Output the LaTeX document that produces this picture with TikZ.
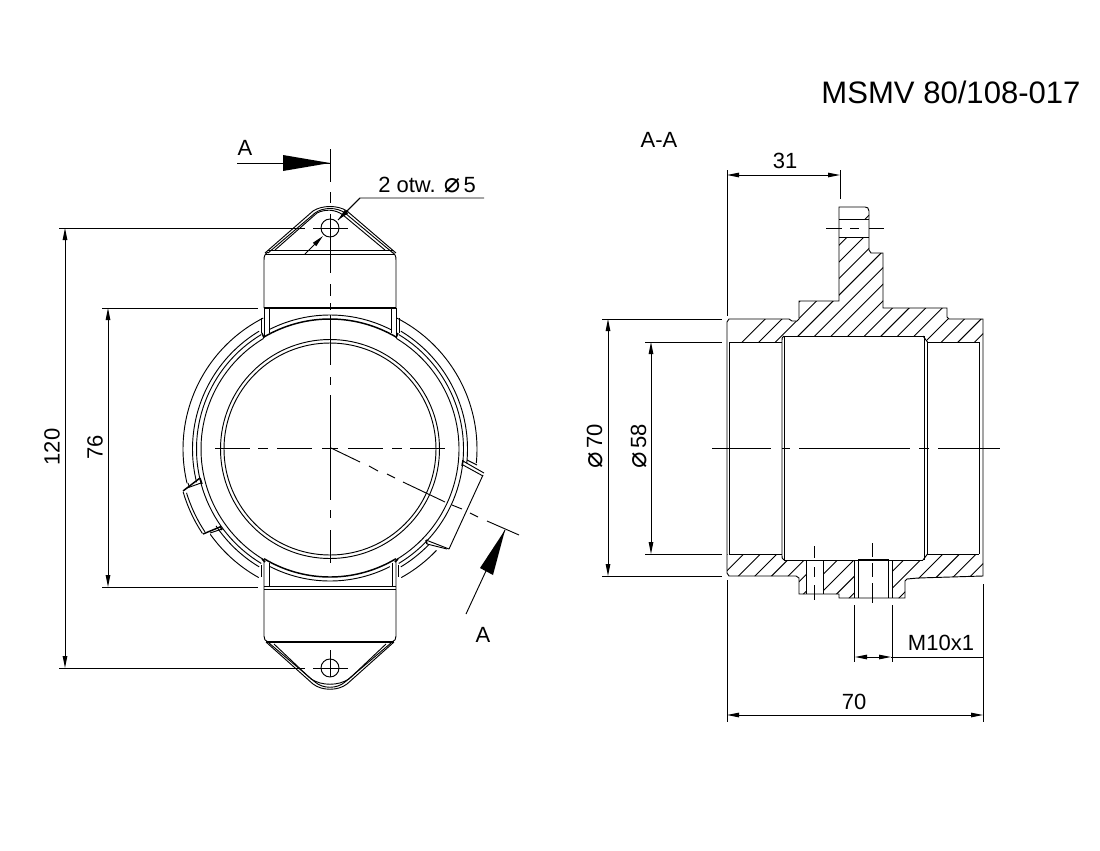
\documentclass[tikz,border=0pt]{standalone}
\usepackage{fontspec}
\setmainfont{Liberation Sans}
\newfontfamily\symfont{DejaVu Sans}
\usetikzlibrary{arrows.meta}
\newcommand{\dia}{{\symfont\fontsize{20.5}{20}\selectfont\raisebox{-0.3pt}{⌀}}\kern2.5pt}
\newcommand{\rarc}[4][]{\draw[#1] plot[domain=#3:#4,samples=50,variable=\t] ({330+#2*cos(\t)},{449+#2*sin(\t)});}
\newcommand{\hatchset}[3]{\foreach \k in {0,...,#3}{\pgfmathsetmacro{\s}{#1+\k*#2}\draw[ln] ({\s-150},150) -- ({\s-700},700);}}
\tikzset{
 ln/.style={line width=0.7pt,line cap=butt},
 thk/.style={line width=1.1pt},
 dimln/.style={line width=0.7pt},
 both/.style={dimln,{Triangle[length=9pt,width=3.4pt]}-{Triangle[length=9pt,width=3.4pt]}},
 txt/.style={font=\fontsize{16.5}{20}\selectfont,inner sep=0pt,text=black},
 ttl/.style={font=\fontsize{23.3}{28}\selectfont,inner sep=0pt,text=black},
}
\begin{document}
\begin{tikzpicture}[x=0.75pt,y=-0.75pt]
\useasboundingbox (0,0) rectangle (1100,850);
\fill[white] (0,0) rectangle (1100,850);

% ---- texts
\node[ttl] (title) at (951,92) {MSMV 80/108-017};
\node[txt] (secname) at (659,140) {A-A};
\node[txt] (aone) at (245,148) {A};
\node[txt] (atwo) at (483,635) {A};
\node[txt,anchor=west] (holes) at (378,185) {2 otw. \dia5};
\node[txt,rotate=90] (d120) at (52,447) {120};
\node[txt,rotate=90] (d76) at (95,447) {76};
\node[txt] (d31) at (785,161) {31};
\node[txt,rotate=90] (d70a) at (595,446) {\dia70};
\node[txt,rotate=90] (d58) at (639,446) {\dia58};
\node[txt] (dm) at (941,643) {M10x1};
\node[txt] (d70b) at (854,702) {70};

% ---- LEFT VIEW: rings
\draw[ln] (330,449) circle [x radius=106,y radius=-106];
\draw[ln] (330,449) circle [x radius=109.5,y radius=-109.5];
\rarc[ln]{129}{-59}{59}
\rarc[ln]{129}{121}{239}
\rarc[ln]{133.5}{-59}{59}
\rarc[ln]{133.5}{121}{239}
\rarc[ln]{137.5}{-59}{6}
\rarc[ln]{137.5}{44}{59}
\rarc[ln]{137.5}{121}{146}
\rarc[ln]{137.5}{166}{239}
\rarc[ln]{147}{-63}{5.5}
\rarc[ln]{147}{43.6}{61}
\rarc[ln]{147}{119}{144.5}
\rarc[ln]{147}{166.5}{243}
\rarc[thk]{130}{-120.5}{-59.5}
\rarc[ln]{134}{-117}{-63}
\rarc[thk]{128}{59}{121}
\rarc[ln]{132}{63}{117}

% stubs beside the lugs
\draw[ln] (261,318) -- (261,333);
\draw[ln] (399,318) -- (399,333);
\draw[ln] (261,565) -- (261,577);
\draw[ln] (398,565) -- (398,577);

% top lug
\draw[ln] (264,308) -- (264,260) .. controls (264,256) and (265,254) .. (268,252);
\draw[ln] (396,308) -- (396,260) .. controls (396,256) and (395,254) .. (392,252);
\draw[thk] (264,308) -- (396,308);
\draw[ln] (265,253) -- (313,211) .. controls (322,205) and (338,205) .. (347,211) -- (396,253);
\draw[ln] (268,253) -- (315,213) .. controls (323,207) and (337,207) .. (345,213) -- (393,253);
\draw[ln] (275,250) -- (317,213) .. controls (325,209) and (335,209) .. (343,215) -- (385,250);
\draw[ln] (268,250) -- (393,250);
\draw[ln] (265,254) -- (395,254);
\draw[ln] (264,308) -- (264,337);
\draw[ln] (269,308) -- (269,333);
\draw[ln] (396,308) -- (396,337);
\draw[ln] (391,308) -- (391,333);
\draw[thk] (262,333) -- (264,338);
\draw[thk] (398,333) -- (396,338);
\draw[ln] (330,228) circle [x radius=9,y radius=-9];
\draw[ln] (313,228) -- (348,228);

% bottom lug
\draw[ln] (264,586) -- (396,586);
\draw[ln] (264,589) -- (396,589);
\draw[ln] (264,560) -- (264,636) .. controls (264,639) and (265,641) .. (268,642);
\draw[ln] (396,560) -- (396,636) .. controls (396,639) and (395,641) .. (392,642);
\draw[ln] (269,563) -- (269,586);
\draw[ln] (392,563) -- (392,586);
\draw[thk] (262,559) -- (265,562);
\draw[thk] (398,559) -- (395,562);
\draw[thk] (266,642) -- (394,642);
\draw[ln] (266,642) -- (313,684) .. controls (322,691) and (338,691) .. (347,684) -- (394,642);
\draw[ln] (269,643) -- (315,682) .. controls (323,689) and (337,689) .. (345,682) -- (391,643);
\draw[ln] (274,644) -- (311,679) .. controls (322,686) and (338,686) .. (349,679) -- (386,644);
\draw[ln] (330,668) circle [x radius=9,y radius=-9];
\draw[ln] (313,668) -- (348,668);
\draw[ln] (330,650) -- (330,677);

% right tab
\draw[ln] (463,461) -- (484,473);
\draw[ln] (463,465) -- (483,476);
\draw[ln] (467,460) -- (477,465);
\draw[ln] (483,475) -- (449,549);
\draw[ln] (426,540) -- (449,549);
\draw[ln] (427,544) -- (447,549);
\draw[thk] (463,460) -- (462,466);
\draw[thk] (426,540) -- (427,544);

% left tab
\rarc[ln]{153}{146.5}{163.7}
\rarc[ln]{150}{146.5}{163}
\draw[thk] (183,491) -- (200,478);
\draw[ln] (187,488) -- (201,483);
\draw[thk] (200,478) -- (202,484);
\draw[ln] (188,483) -- (189,486);
\draw[thk] (203,534) -- (220,527);
\draw[ln] (210,533) -- (222,529);
\draw[thk] (220,526) -- (222,530);

% centre lines of the left view
\draw[ln] (330.5,149) -- (330.5,182) (330.5,192) -- (330.5,203) (330.5,214) -- (330.5,273)
          (330.5,284) -- (330.5,296) (330.5,303) -- (330.5,310) (330.5,315) -- (330.5,365)
          (330.5,377) -- (330.5,385) (330.5,395) -- (330.5,500) (330.5,510) -- (330.5,518) (330.5,530) -- (330.5,563);
\draw[ln] (215,448.5) -- (250,448.5) (258,448.5) -- (268,448.5) (277,448.5) -- (312,448.5)
          (322,448.5) -- (338,448.5) (348,448.5) -- (383,448.5) (392,448.5) -- (402,448.5) (410,448.5) -- (445,448.5);
\draw[ln] (331,448) -- (360,462) (369,466) -- (378,471) (387,474) -- (395,478)
          (403,482) -- (445,502) (452,505) -- (462,509) (470,513) -- (478,517) (487,521) -- (519,535);

% section arrows
\draw[ln] (237,163) -- (330,163);
\fill[black] (283,155) -- (330,163) -- (283,171) -- cycle;
\draw[ln] (466,614) -- (505,530);
\fill[black] (480,568) -- (505,530) -- (493,575) -- cycle;

% dimensions, left view
\draw[dimln] (59,228) -- (305,228) (59,668) -- (305,668);
\draw[both] (65,228) -- (65,668);
\draw[dimln] (102,308) -- (258,308) (102,587) -- (258,587);
\draw[both] (108,308) -- (108,587);
\draw[dimln] (484,198) -- (360,198) -- (338,220);
\draw[dimln,-{Triangle[length=9pt,width=3.4pt]}] (360,198) -- (338,220);
\draw[dimln,-{Triangle[length=9pt,width=3.4pt]}] (305,254) -- (323,236);

% ---- RIGHT VIEW: hatching
\begin{scope}
\clip (729,319) -- (789,319) -- (792,321) -- (797,321) -- (799,319) -- (799,301) -- (839,301) -- (839,237)
 -- (869,237) -- (869,250) -- (871,253) -- (883,253) -- (883,308) -- (947,308) -- (947,317) -- (949,319) -- (983,319)
 -- (983,342) -- (927,342) -- (927,336) -- (784,336) -- (784,342) -- (727,342) -- (727,322) -- cycle
 (839,207) -- (865,207) -- (869,210) -- (869,219) -- (839,219) -- cycle;
\hatchset{1084.3}{16.6}{24}
\end{scope}
\begin{scope}
\clip (729,554) -- (782,554) -- (784,560) -- (806,560) -- (806,594) -- (799,594) -- (799,578) -- (796,576) -- (729,576) -- (727,573) -- (727,554) -- cycle
 (823,560) -- (854,560) -- (854,598) -- (839,598) -- (839,594) -- (823,594) -- cycle
 (892,560) -- (924,560) -- (927,554) -- (983,554) -- (983,576) -- (907,579) -- (905,581) -- (905,598) -- (892,598) -- cycle;
\hatchset{1281.2}{16.6}{24}
\end{scope}

% outline
\draw[ln] (727,322) -- (729,319) -- (789,319) -- (792,321) -- (797,321) -- (799,319) -- (799,301) -- (839,301)
 -- (839,207) -- (865,207) .. controls (867,207) and (869,208) .. (869,211) -- (869,250) -- (871,253) -- (883,253)
 -- (883,308) -- (947,308) -- (947,317) -- (949,319) -- (983,319) -- (983,576)
 -- (918,578) -- (907,579) -- (905,581) -- (905,598) -- (839,598) -- (839,594) -- (799,594) -- (799,578) -- (796,576) -- (789,576) -- (729,576) -- (727,573) -- cycle;
\draw[ln] (839,219) -- (869,219) (839,237) -- (869,237);
\draw[ln] (729,342) -- (782,342) (927,342) -- (979,342);
\draw[ln] (729,554) -- (782,554) (927,554) -- (979,554);
\draw[ln] (786,336) -- (923,336) (786,560) -- (923,560);
\draw[ln] (729,342) -- (729,554) (979.5,342) -- (979.5,554);
\draw[ln] (782,342) .. controls (782,338) and (782,337) .. (784,336) (782,342) -- (782,554) .. controls (782,558) and (782,559) .. (784,560);
\draw[ln] (784,336) -- (786,336) (784,336) -- (784,560) -- (786,560);
\draw[ln] (924.5,336) -- (924.5,560);
\draw[ln] (927.5,342) -- (927.5,554);
\draw[ln] (923,336) -- (927.5,342) (923,560) -- (927.5,554);
% holes in the boss
\draw[ln] (806,560) -- (806,594) (823,560) -- (823,594);
\draw[ln] (858,559) -- (888,559) (858,559) -- (858,598) (888,559) -- (888,598);
\draw[ln] (854,560) -- (854,598) (892,560) -- (892,598);
% centre lines of the section
\draw[ln] (712,448) -- (771,448) (782,448) -- (790,448) (799,448) -- (910,448) (919,448) -- (929,448) (938,448) -- (1000,448);
\draw[ln] (826,228) -- (842,228) (850,228) -- (859,228) (869,228) -- (884,228);
\draw[ln] (814,546) -- (814,558) (814,567) -- (814,577) (814,585) -- (814,600);
\draw[ln] (872.3,543) -- (872.3,557) (872.3,563) -- (872.3,577) (872.3,583) -- (872.3,603);

% dimensions, section
\draw[dimln] (727,170) -- (727,316);
\draw[dimln] (840,170) -- (840,199);
\draw[both] (727,175) -- (840,175);
\draw[dimln] (602,319) -- (722,319) (602,576) -- (722,576);
\draw[both] (608,319) -- (608,576);
\draw[dimln] (645,342) -- (722,342) (645,554) -- (722,554);
\draw[both] (651,342) -- (651,554);
\draw[dimln] (727,580) -- (727,722) (983,584) -- (983,722);
\draw[both] (727,715) -- (983,715);
\draw[dimln] (854,605) -- (854,662) (892,605) -- (892,662);
\draw[both] (855,657) -- (891,657);
\draw[dimln] (891,657) -- (983,657);
\end{tikzpicture}
\end{document}
